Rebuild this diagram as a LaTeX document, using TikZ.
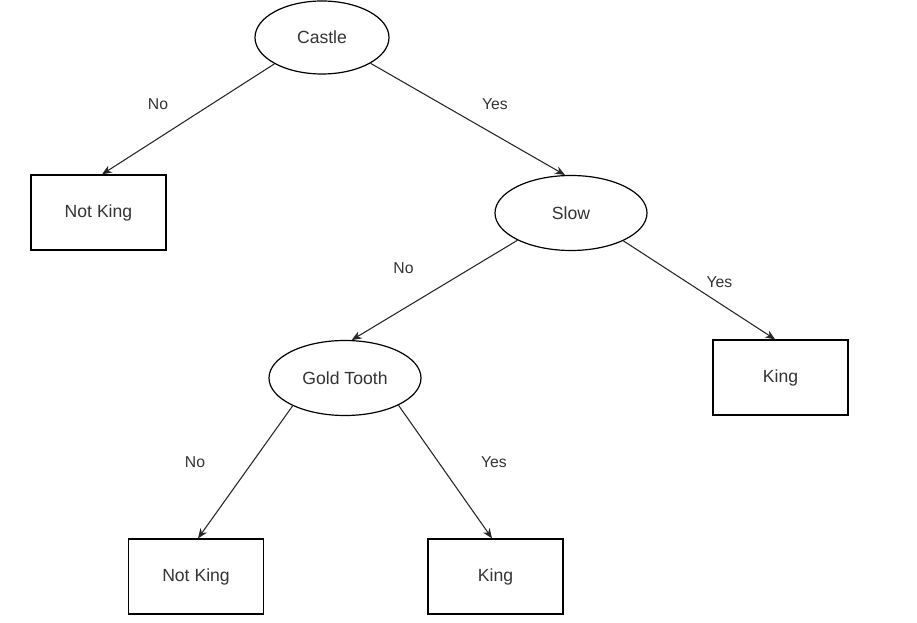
\documentclass[tikz,border=0pt]{standalone}
\usepackage{fontspec}
\setmainfont{Liberation Sans}
\usetikzlibrary{shapes.geometric,arrows.meta}
\definecolor{txt}{HTML}{333333}
\tikzset{
  dec/.style={ellipse, draw=black, line width=0.9pt, inner sep=0pt, minimum width=114pt, minimum height=56.25pt, font=\fontsize{13.2}{15}\selectfont, text=txt},
  leaf/.style={rectangle, draw=black, line width=0.9pt, inner sep=0pt, minimum width=101.25pt, minimum height=56.25pt, font=\fontsize{13.2}{15}\selectfont, text=txt},
  edge/.style={-{Stealth[length=7.5pt,width=6pt]}, line width=0.8pt, draw=black!85},
  lbl/.style={font=\fontsize{11.8}{14}\selectfont, text=txt, inner sep=0pt}
}
\begin{document}
\begin{tikzpicture}[x=0.75pt,y=-0.75pt]
\useasboundingbox (0,0) rectangle (917,623);
\node[dec, minimum width=100.5pt, minimum height=54.75pt] (castle) at (322,37.5) {Castle};
\node[leaf] (nk1) at (98.5,212.5) {Not King};
\node[dec] (slow) at (571,213) {Slow};
\node[leaf] (king1) at (780.5,377.5) {King};
\node[dec] (gold) at (345,378) {Gold Tooth};
\node[leaf] (nk2) at (196,576.5) {Not King};
\node[leaf] (king2) at (495.5,576.5) {King};

\draw[edge] (castle.209) -- ([xshift=2.6pt]nk1.north);
\draw[edge] (castle.332) -- (slow.99);
\draw[edge] (slow.207) -- (gold.80);
\draw[edge] (slow.332) -- ([xshift=-4pt]king1.north);
\draw[edge] (gold.208) -- ([xshift=1.5pt]nk2.north);
\draw[edge] (gold.333) -- ([xshift=-2.6pt]king2.north);

\node[lbl] (l1) at (158,104) {No};
\node[lbl] (l2) at (495,104) {Yes};
\node[lbl] (l3) at (403.5,268) {No};
\node[lbl] (l4) at (719.5,282) {Yes};
\node[lbl] (l5) at (195,462) {No};
\node[lbl] (l6) at (494,462) {Yes};
\end{tikzpicture}
\end{document}
